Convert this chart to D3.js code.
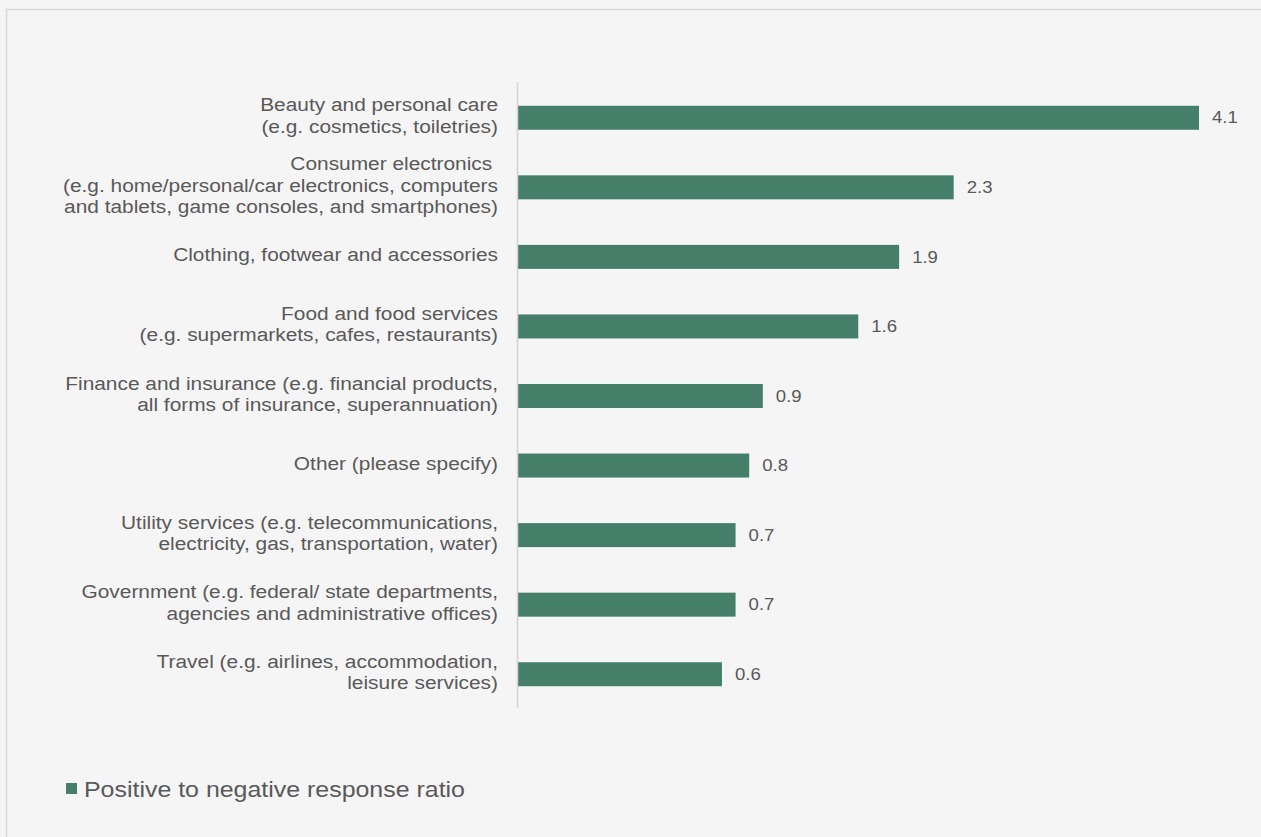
<!DOCTYPE html>
<html>
<head>
<meta charset="utf-8">
<script src="https://cdn.jsdelivr.net/npm/d3@7"></script>
<style>
  html, body { margin: 0; padding: 0; background: #f5f5f5; }
  svg { display: block; font-family: "Liberation Sans", Arial, sans-serif; }
  text { white-space: pre; }
</style>
</head>
<body>
<svg id="chart" width="1261" height="837"></svg>
<script>
// Category labels (each entry is the list of wrapped lines)
const categories = [
  ["Beauty and personal care", "(e.g. cosmetics, toiletries)"],
  ["Consumer electronics ", "(e.g. home/personal/car electronics, computers", "and tablets, game consoles, and smartphones)"],
  ["Clothing, footwear and accessories"],
  ["Food and food services", "(e.g. supermarkets, cafes, restaurants)"],
  ["Finance and insurance (e.g. financial products,", "all forms of insurance, superannuation)"],
  ["Other (please specify)"],
  ["Utility services (e.g. telecommunications,", "electricity, gas, transportation, water)"],
  ["Government (e.g. federal/ state departments,", "agencies and administrative offices)"],
  ["Travel (e.g. airlines, accommodation,", "leisure services)"]
];
const ratios = [4.1, 2.3, 1.9, 1.6, 0.9, 0.8, 0.7, 0.7, 0.6];
const seriesName = "Positive to negative response ratio";
const axisMin = -0.9;
const axisMax = 4.1;

const barColor = "#457f6a";
const textColor = "#595959";
const stretch = 1.16;   // horizontal widening applied to all text

const svg = d3.select("#chart");

// Outer frame
svg.append("rect")
  .attr("x", 6.5).attr("y", 9.5)
  .attr("width", 1270).attr("height", 840)
  .attr("fill", "#f5f5f5")
  .attr("stroke", "#d9d9d9").attr("stroke-width", 1.5);

const plot = { left: 517.5, right: 1199, top: 82, bottom: 708 };

const x = d3.scaleLinear().domain([axisMin, axisMax]).range([plot.left, plot.right]);
const y = d3.scaleBand()
  .domain(d3.range(ratios.length))
  .range([plot.top, plot.bottom])
  .paddingInner(0.655).paddingOuter(0.3275);

// Bars
svg.append("g").selectAll("rect")
  .data(ratios)
  .join("rect")
  .attr("x", x(axisMin))
  .attr("y", (d, i) => y(i) + 1)
  .attr("width", d => x(d) - x(axisMin))
  .attr("height", y.bandwidth())
  .attr("fill", barColor);

// Category axis line
svg.append("line")
  .attr("x1", plot.left).attr("x2", plot.left)
  .attr("y1", plot.top).attr("y2", plot.bottom)
  .attr("stroke", "#d4d4d4").attr("stroke-width", 1.5);

// Category labels
const lineH = 21.5;
const labels = svg.append("g")
  .attr("font-size", 18)
  .attr("fill", textColor)
  .attr("text-anchor", "end");
categories.forEach((lines, i) => {
  const cy = y(i) + y.bandwidth() / 2;
  const t = labels.append("text")
    .attr("transform", `translate(498,${cy - (lines.length - 1) * lineH / 2 - 1}) scale(${stretch},1)`);
  lines.forEach((ln, k) => {
    t.append("tspan")
      .attr("x", 0)
      .attr("y", k * lineH)
      .attr("dy", "0.35em")
      .text(ln);
  });
});

// Value labels
svg.append("g").selectAll("text")
  .data(ratios)
  .join("text")
  .attr("transform", (d, i) => `translate(${x(d) + 13},${y(i) + y.bandwidth() / 2 + 1}) scale(${stretch},1)`)
  .attr("dy", "0.35em")
  .attr("font-size", 16)
  .attr("fill", textColor)
  .text(d => d3.format(".1f")(d));

// Legend
const legend = svg.append("g");
legend.append("rect")
  .attr("x", 66).attr("y", 783)
  .attr("width", 11).attr("height", 11)
  .attr("fill", barColor);
legend.append("text")
  .attr("transform", `translate(84,789) scale(${stretch},1)`)
  .attr("dy", "0.35em")
  .attr("font-size", 21.5)
  .attr("fill", textColor)
  .text(seriesName);
</script>
</body>
</html>
